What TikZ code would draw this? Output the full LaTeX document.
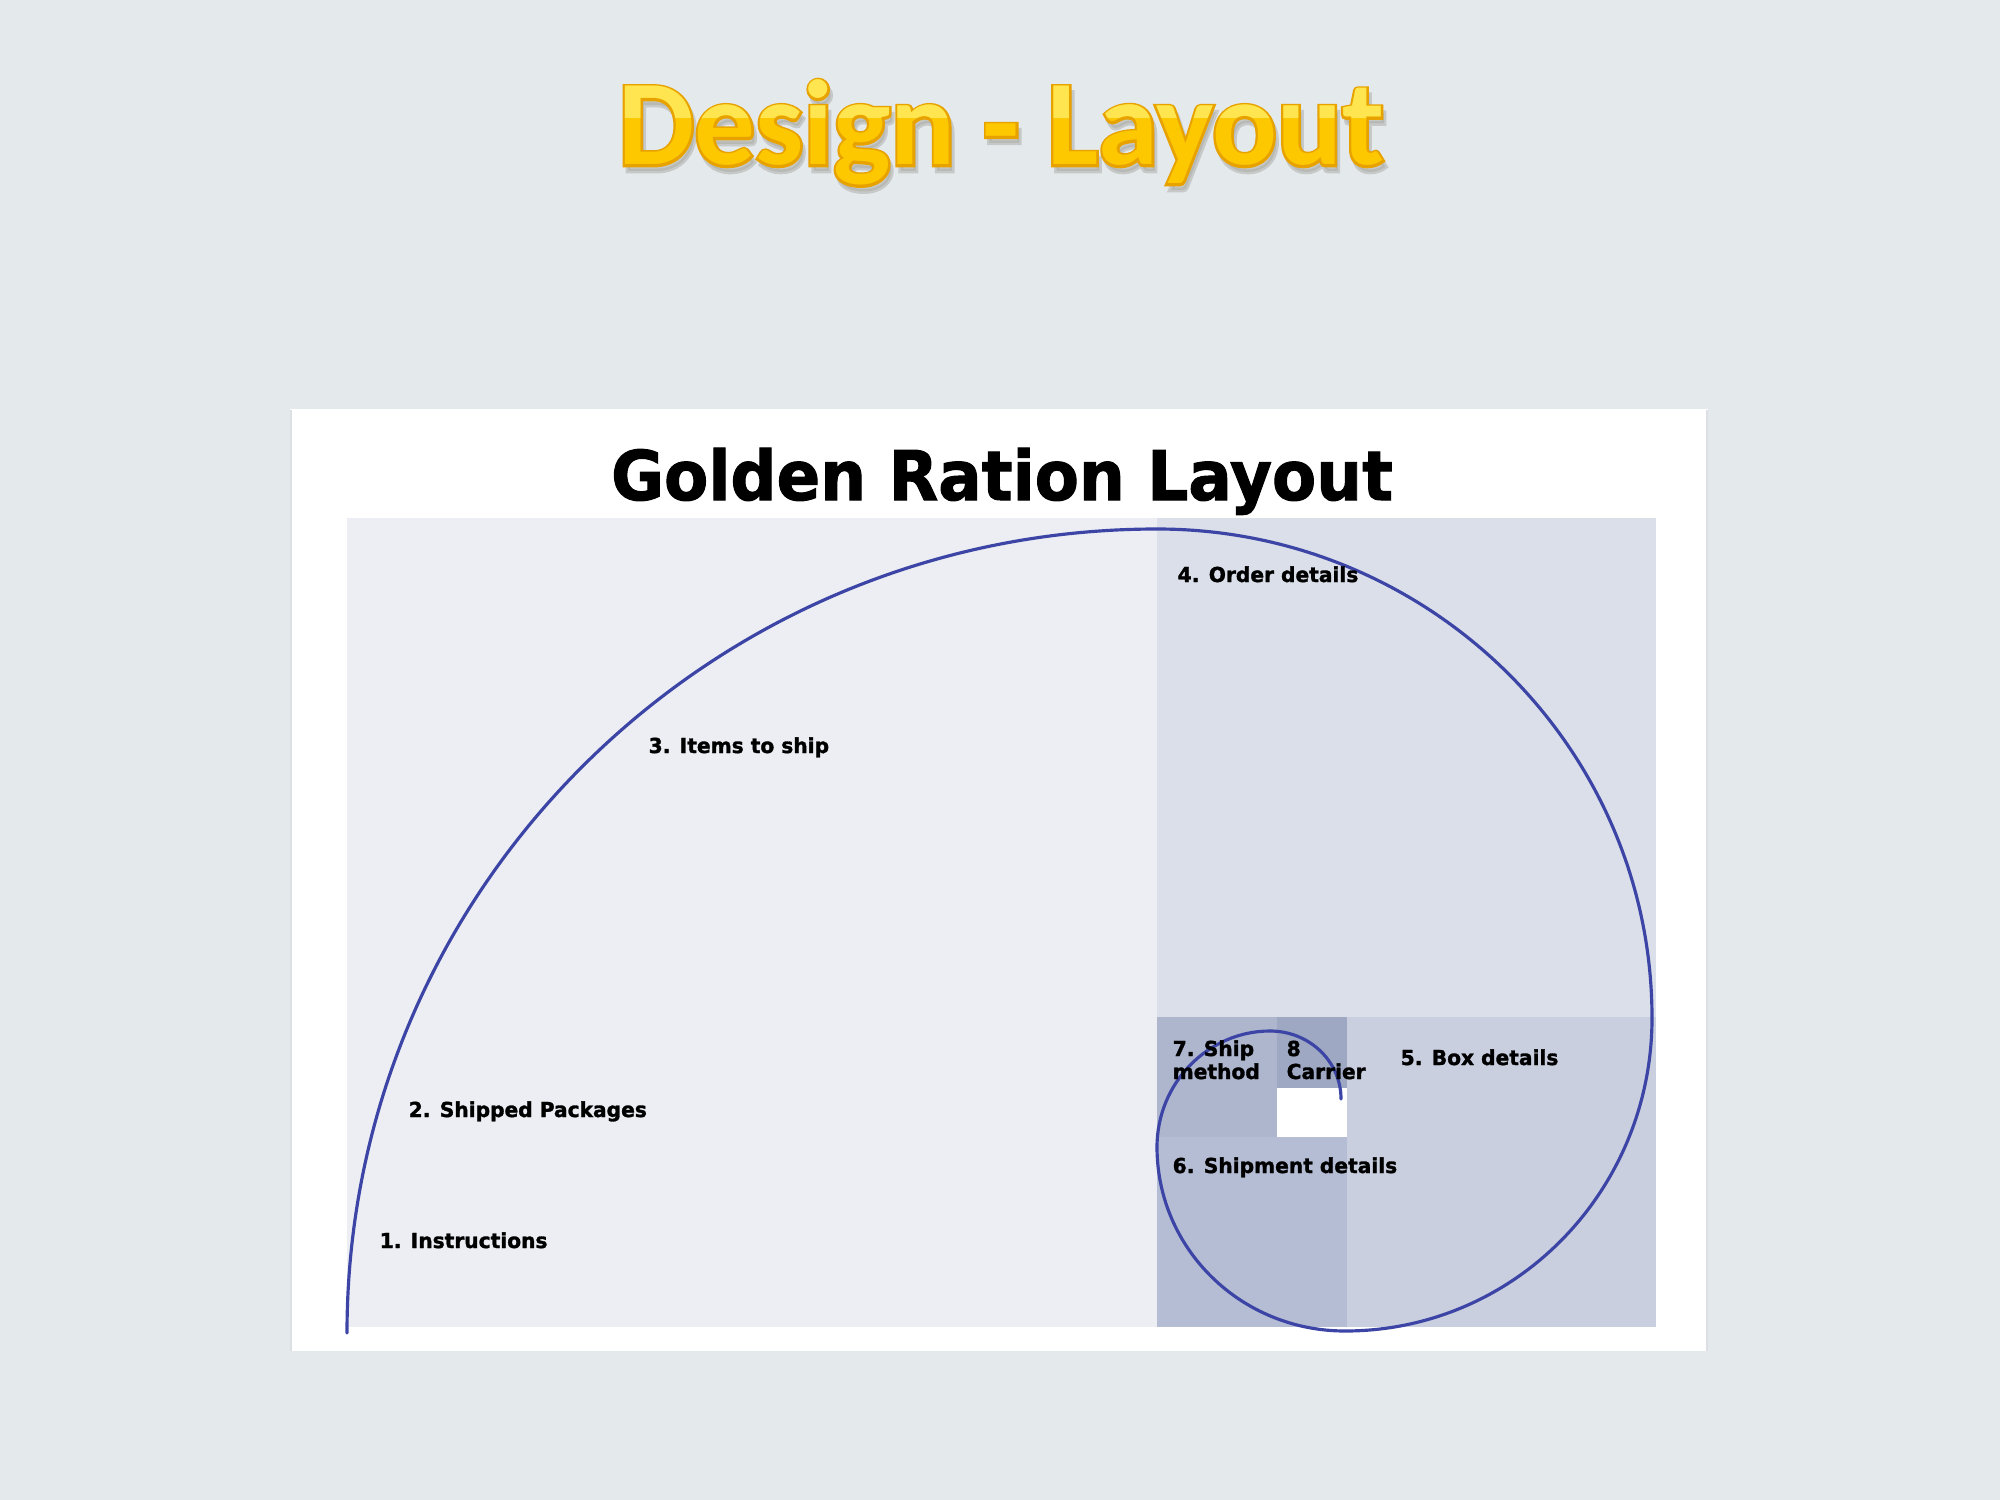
\documentclass[tikz,border=0pt]{standalone}
\usepackage{fontspec}
\setmainfont{DejaVu Sans}
\newfontfamily\headfont{Carlito}
\newfontfamily\headrimfont{Carlito}[BoldFeatures={FakeBold=4}]
\newfontfamily\boxfont{DejaVu Sans}[BoldFeatures={FakeBold=1.5}]

\definecolor{slidebg}{HTML}{E4E9EC}
\definecolor{panelrule}{HTML}{DCE0E4}
\definecolor{sqA}{HTML}{ECEEF3}
\definecolor{sqB}{HTML}{DADFE9}
\definecolor{sqC}{HTML}{C9CFDF}
\definecolor{sqD}{HTML}{B5BDD4}
\definecolor{sqE}{HTML}{AEB6CE}
\definecolor{sqF}{HTML}{9EA8C3}
\definecolor{spiral}{HTML}{3C45A6}
\definecolor{goldedge}{HTML}{E8A200}
\definecolor{goldbody}{HTML}{FDC800}
\definecolor{goldlight}{HTML}{FFE54F}
\definecolor{titleshadow}{HTML}{A9AAA4}

\tikzset{
  headline/.style={anchor=base, inner sep=0pt,
    font=\headfont\bfseries\fontsize{34.4}{40}\selectfont},
  headrim/.style={anchor=base, inner sep=0pt,
    font=\headrimfont\bfseries\fontsize{34.4}{40}\selectfont},
  boxtitle/.style={anchor=base, inner sep=0pt, xscale=0.94,
    font=\boxfont\bfseries\fontsize{19.5}{22}\selectfont},
  arealabel/.style={anchor=base west, inner sep=0pt, xscale=0.98,
    font=\boxfont\bfseries\fontsize{5.86}{6.6}\selectfont},
  spiralline/.style={draw=spiral, line width=0.9pt, line cap=round},
}

\begin{document}
\begin{tikzpicture}[x=0.01cm, y=-0.01cm]
\useasboundingbox (0,0) rectangle (2000,1500);
\fill[slidebg] (0,0) rectangle (2000,1500);

% ---- slide heading: soft shadow, orange rim, yellow body, light top ----
\node[headrim, text=titleshadow, opacity=0.5] (headshadow) at (1004,171) {Design - Layout};
\node[headrim, text=goldedge] (headrim) at (1001,165) {Design - Layout};
\node[headline, text=goldbody] (head) at (1001,165) {Design - Layout};
\begin{scope}
  \clip (500,60) rectangle (1500,118);
  \node[headline, text=goldlight] (headlight) at (1001,165) {Design - Layout};
\end{scope}

% ---- white panel ----
\fill[white] (290,409) rectangle (1708,1351);
\draw[panelrule, line width=0.6pt] (291,410) -- (291,1351);
\draw[panelrule, line width=0.6pt] (1707,410) -- (1707,1351);

\node[boxtitle] (boxtitle) at (1002,500) {Golden Ration Layout};

% ---- golden-ratio squares ----
\fill[sqA] (347,518) rectangle (1157,1327);
\fill[sqB] (1157,518) rectangle (1656,1017);
\fill[sqC] (1347,1017) rectangle (1656,1327);
\fill[sqD] (1157,1137) rectangle (1347,1327);
\fill[sqE] (1157,1017) rectangle (1277,1137);
\fill[sqF] (1277,1017) rectangle (1347,1088);
\fill[white] (1277,1088) rectangle (1347,1137);

% ---- spiral through the squares ----
\coordinate (s0) at (347,1333);
\coordinate (s1) at (1157,529);
\coordinate (s2) at (1652,1018);
\coordinate (s3) at (1345,1331);
\coordinate (s4) at (1157,1147);
\coordinate (s5) at (1270,1031);
\coordinate (s6) at (1341,1099);
\path[spiralline]
  (s0) .. controls (347,889) and (710,529) .. (s1)
       .. controls (1430,529) and (1652,748) .. (s2)
       .. controls (1652,1191) and (1515,1331) .. (s3)
       .. controls (1241,1331) and (1157,1249) .. (s4)
       .. controls (1157,1083) and (1208,1031) .. (s5)
       .. controls (1309,1031) and (1341,1061) .. (s6);

% ---- area labels ----
\node[arealabel] (l1) at (379,1248) {1. Instructions};
\node[arealabel] (l2) at (408,1117) {2. Shipped Packages};
\node[arealabel] (l3) at (648,753) {3. Items to ship};
\node[arealabel] (l4) at (1177,582) {4. Order details};
\node[arealabel] (l5) at (1400,1065) {5. Box details};
\node[arealabel] (l6) at (1172,1173) {6. Shipment details};
\node[arealabel] (l7a) at (1172,1056) {7. Ship};
\node[arealabel] (l7b) at (1172,1079) {method};
\node[arealabel] (l8a) at (1286,1056) {8};
\node[arealabel] (l8b) at (1286,1079) {Carrier};
\end{tikzpicture}
\end{document}
